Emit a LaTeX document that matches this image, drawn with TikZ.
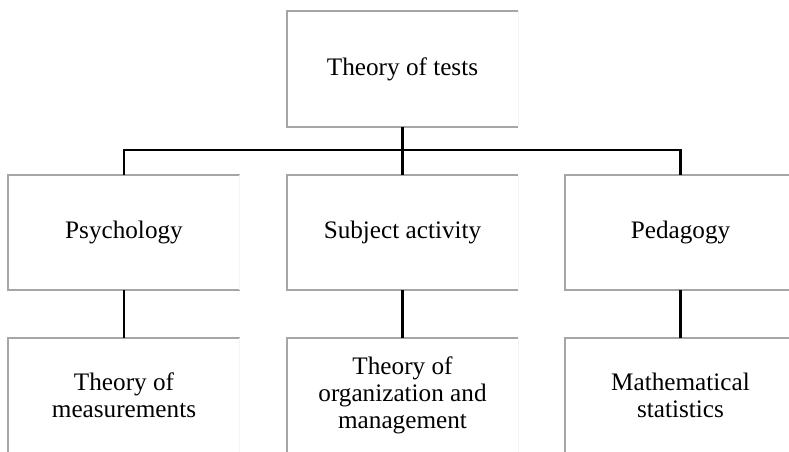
\documentclass[tikz,border=0pt]{standalone}
\usepackage{fontspec}
\setmainfont{Liberation Serif}
\begin{document}
\begin{tikzpicture}[x=1pt,y=-1pt,
  box/.style={minimum width=231pt,minimum height=115pt,inner sep=0pt,align=center,
    font=\fontsize{25.2}{26.8}\selectfont},
  edge/.style={draw=gray!70,line width=1.7pt},
  faint/.style={draw=gray!8,line width=1pt},
  conn/.style={draw=black,line width=2.6pt}]
\useasboundingbox (0,0) rectangle (789,451);
\node[box] (top)  at (402.5,69)  {Theory of tests};
\node[box] (psy)  at (124,232.5) {Psychology};
\node[box] (subj) at (402.5,232.5) {Subject activity};
\node[box] (ped)  at (680.5,232.5) {Pedagogy};
\node[box] (meas) at (124,395.5) {Theory of\\measurements};
\node[box] (org)  at (402.5,395.5) {Theory of\\organization and\\management};
\node[box] (stat) at (680.5,395.5) {Mathematical\\statistics};
\foreach \n in {top,psy,subj,ped,meas,org,stat}{
  \draw[edge] (\n.north east) -- (\n.north west) -- (\n.south west) -- (\n.south east);
  \draw[faint] (\n.north east) -- (\n.south east);
}
\coordinate (bus) at (402.5,150);
\draw[conn] (top.south) -- (top.south |- bus);
\draw[conn] (psy.north) -- (psy.north |- bus) -- (ped.north |- bus) -- (ped.north);
\draw[conn] (subj.north) -- (subj.north |- bus);
\draw[conn] (psy.south) -- (meas.north);
\draw[conn] (subj.south) -- (org.north);
\draw[conn] (ped.south) -- (stat.north);
\end{tikzpicture}
\end{document}
